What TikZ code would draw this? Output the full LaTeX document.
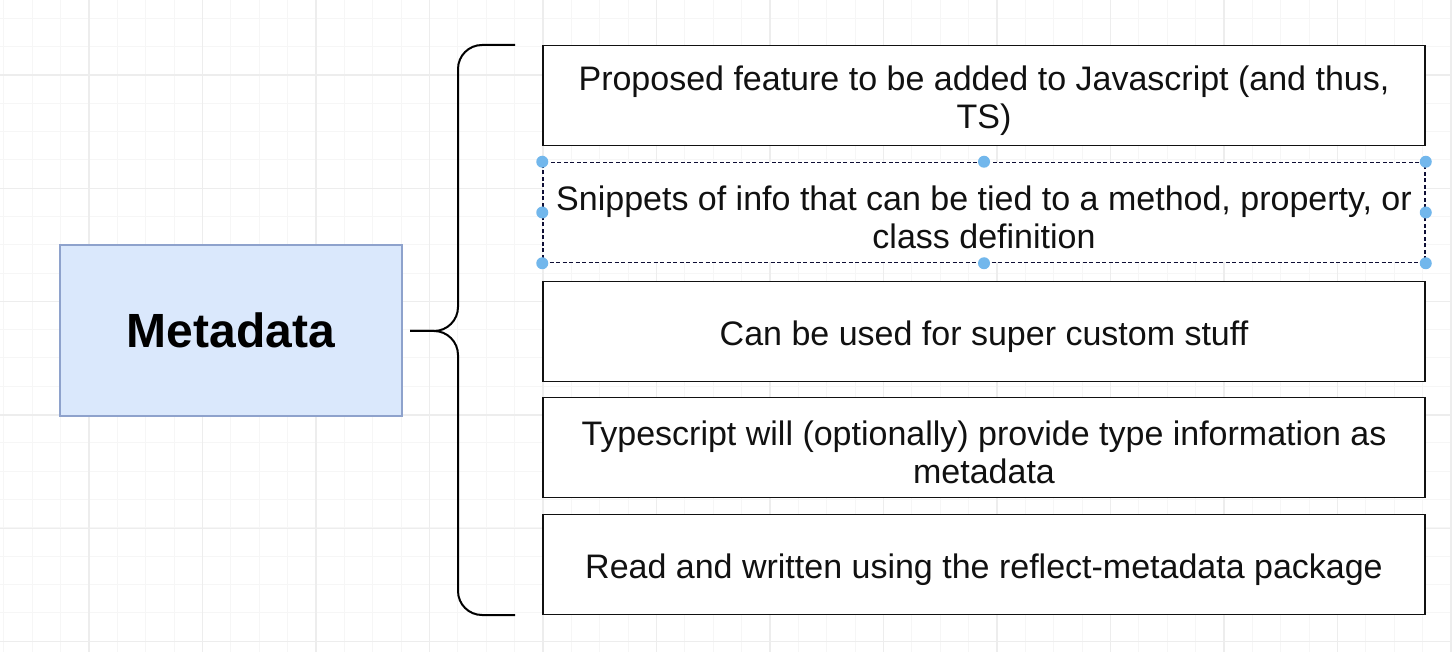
\documentclass[tikz,border=0pt]{standalone}
\usepackage{fontspec}
\setmainfont{Liberation Sans}
\definecolor{gridminor}{HTML}{F6F6F6}
\definecolor{gridmajor}{HTML}{EDEDED}
\definecolor{mfill}{HTML}{DAE8FC}
\definecolor{mdraw}{HTML}{8EA2CC}
\definecolor{handle}{HTML}{72B7EC}
\definecolor{ink}{HTML}{111111}
\tikzset{
  itembox/.style={draw=ink, line width=1.9pt, fill=white, minimum width=882pt, minimum height=100pt,
    align=center, inner sep=0pt, font=\fontsize{34}{38}\selectfont, text=ink},
  selbox/.style={itembox, draw=ink!85!blue, line width=1.5pt, dash pattern=on 4pt off 2.5pt},
  mainbox/.style={draw=mdraw, line width=1.6pt, fill=mfill, minimum width=342pt, minimum height=171pt,
    inner sep=0pt, font=\fontsize{48}{56}\selectfont\bfseries, text=black},
  itemtext/.style={align=center, inner sep=0pt, font=\fontsize{34}{38}\selectfont, text=ink},
  bracket/.style={draw=black, line width=2pt},
  handledot/.style={circle, fill=handle, inner sep=0pt, minimum size=12pt}
}
\begin{document}
\begin{tikzpicture}[x=1pt,y=-1pt]
\useasboundingbox (0,0) rectangle (1452,652);
\fill[white] (0,0) rectangle (1452,652);
% grid
\foreach \i in {0,...,51} {
  \draw[gridminor, line width=1pt] (3.8+\i*28.375,0) -- ++(0,652);
}
\foreach \i in {0,...,23} {
  \draw[gridminor, line width=1pt] (0,18.4+\i*28.3) -- ++(1452,0);
}
\foreach \i in {0,...,12} {
  \draw[gridmajor, line width=1.2pt] (89+\i*113.5,0) -- ++(0,652);
}
\foreach \i in {0,...,5} {
  \draw[gridmajor, line width=1.2pt] (0,75+\i*113.3) -- ++(1452,0);
}
% main node
\node[mainbox] (meta) at (231,330.5) {\raisebox{-3pt}{Metadata}};
% items
\node[itembox] (b1) at (984,95.5) {};
\node[selbox] (b2) at (984,212.5) {};
\node[itembox] (b3) at (984,331.5) {};
\node[itembox] (b4) at (984,447.5) {};
\node[itembox] (b5) at (984,564.5) {};
\node[itemtext] (t1) at ([yshift=-5pt]b1.center) {Proposed feature to be added to Javascript (and thus,\\TS)};
\node[itemtext] (t2) at ([yshift=-5pt]b2.center) {Snippets of info that can be tied to a method, property, or\\class definition};
\node[itemtext] (t3) at ([yshift=-5pt]b3.center) {Can be used for super custom stuff};
\node[itemtext] (t4) at ([yshift=-5pt]b4.center) {Typescript will (optionally) provide type information as\\metadata};
\node[itemtext] (t5) at ([yshift=-5pt]b5.center) {Read and written using the reflect-metadata package};
% brace
\coordinate (tip) at (410,331);
\coordinate (bt) at (515,45);
\coordinate (bb) at (515,615);
\draw[bracket, rounded corners=24pt] (bt) -- (458,45) -- (458,331) -- (tip);
\draw[bracket, rounded corners=24pt] (bb) -- (458,615) -- (458,331) -- (tip);
% selection handles
\foreach \a in {north west, north, north east, west, east, south west, south, south east} {
  \node[handledot] at (b2.\a) {};
}
\end{tikzpicture}
\end{document}
